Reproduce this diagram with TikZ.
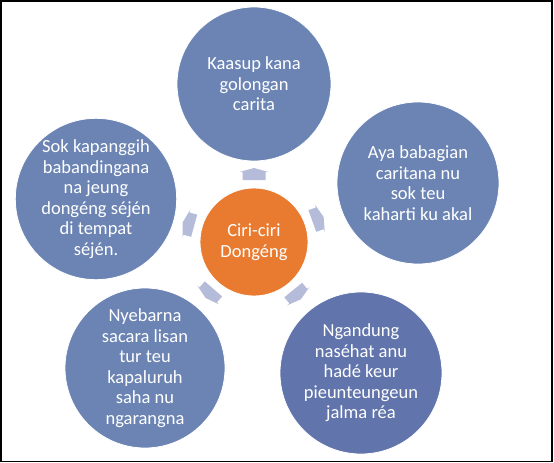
\documentclass[tikz,border=0pt]{standalone}
\usepackage{fontspec}
\setmainfont{Carlito}
\usetikzlibrary{calc}
\definecolor{bluec}{HTML}{6C84B4}
\definecolor{bluedark}{HTML}{6174AC}
\definecolor{orangec}{HTML}{E97B31}
\definecolor{arrowc}{HTML}{B5BCD9}
\tikzset{
  bubble/.style={circle, fill=bluec, draw=white, line width=0.8pt, text=white,
    align=center, inner sep=0pt, font=\fontsize{18.5}{20.5}\selectfont},
  hub/.style={bubble, fill=orangec, minimum size=108pt},
  blockarrow/.style={fill=arrowc, draw=none},
  frame/.style={draw=black, line width=1.5pt}
}
\begin{document}
\begin{tikzpicture}[x=1pt,y=1pt]
\useasboundingbox (0,0) rectangle (554,-463);
\draw[frame] (0.75,-0.75) rectangle (552,-461.5);
\node[hub] (c) at (254,-242) {Ciri-ciri\\Dongéng};
\node[bubble, minimum size=154pt] (t) at (254,-84) {Kaasup kana\\golongan\\carita};
\node[bubble, minimum size=162pt] (r) at (418,-183) {Aya babagian\\caritana nu\\sok teu\\kaharti ku akal};
\node[bubble, minimum size=162pt, fill=bluedark] (br) at (361,-373) {Ngandung\\naséhat anu\\hadé keur\\pieunteungeun\\jalma réa};
\node[bubble, minimum size=160pt] (bl) at (145,-368) {Nyebarna\\sacara lisan\\tur teu\\kapaluruh\\saha nu\\ngarangna};
\node[bubble, minimum size=160pt] (l) at (96,-199) {Sok kapanggih\\babandingana\\na jeung\\dongéng séjén\\di tempat\\séjén.};
\foreach \o in {t,r,br,bl,l}{
  \fill[blockarrow] let \p1=($(\o)-(c)$), \n1={atan2(\y1,\x1)}, \p2=($(c)!68pt!(\o)$) in
    ($(\p2)+(\n1:-6)+(\n1+90:11.5)$) --
    ($(\p2)+(\n1:2)+(\n1+90:11.5)$) --
    ($(\p2)+(\n1:2)+(\n1+90:14.5)$) --
    ($(\p2)+(\n1:6)$) --
    ($(\p2)+(\n1:2)+(\n1-90:14.5)$) --
    ($(\p2)+(\n1:2)+(\n1-90:11.5)$) --
    ($(\p2)+(\n1:-6)+(\n1-90:11.5)$) -- cycle;
}
\end{tikzpicture}
\end{document}
